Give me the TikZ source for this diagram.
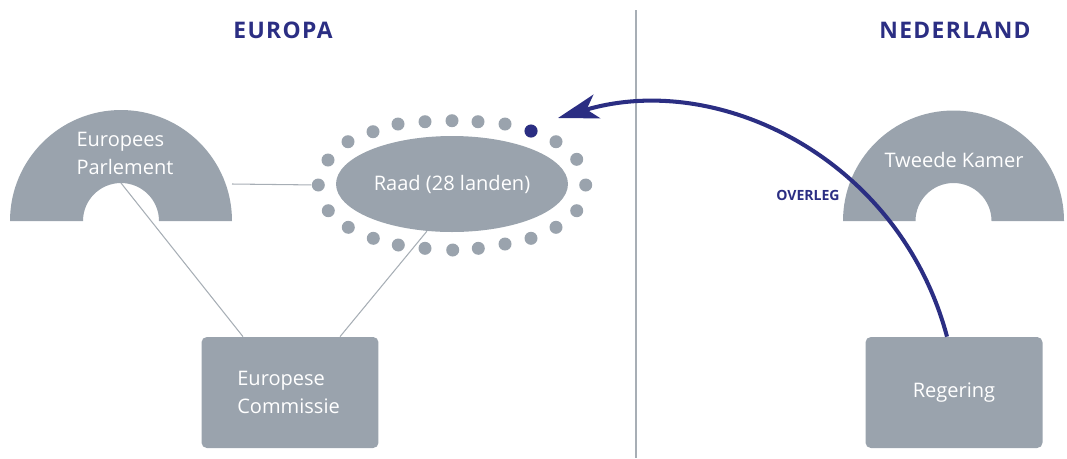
\documentclass[tikz,border=0pt]{standalone}
\usepackage{fontspec}
\setmainfont{Open Sans}
\usepackage{xcolor}
\usetikzlibrary{arrows.meta,shapes.geometric}
\definecolor{grijs}{HTML}{9AA3AD}
\definecolor{lijn}{HTML}{A7AEB5}
\definecolor{blauw}{HTML}{2B2E83}

\begin{document}
\begin{tikzpicture}[x=0.02cm,y=-0.02cm]
	\tikzstyle{every node}=[font=\fontsize{11.4}{16}\selectfont]
	\tikzstyle{wit}=[text=white, inner sep=0pt]
	\tikzstyle{kop}=[text=blauw, font=\bfseries\fontsize{13}{15}\selectfont\addfontfeature{LetterSpace=6}]
	\tikzstyle{blok}=[rectangle, rounded corners=3pt, fill=grijs, minimum width=3.54cm, minimum height=2.22cm, inner sep=0pt]
	\tikzstyle{stip}=[circle, fill=grijs, minimum size=0.26cm, inner sep=0pt]
	\tikzstyle{verbinding}=[draw=lijn, line width=0.6pt]
	\tikzstyle{pijl}=[draw=blauw, line width=2.3pt, -{Stealth[length=23pt, width=14pt, inset=6pt]}]
		\useasboundingbox (0,0) rectangle (1067,458);
		\draw [lijn, line width=1pt] (636,10) to (636,458);
		\node [kop] (europa) at (283,30) {EUROPA};
		\node [kop] (nederland) at (955,30) {NEDERLAND};
		\fill [grijs] (10,221) arc[start angle=180, end angle=360, radius=111] -- (159,221) arc[start angle=0, end angle=-180, radius=38] -- cycle;
		\node [wit, align=left] (eptekst) at (125,153) {Europees\\Parlement};
		\coordinate (ep) at (121,183);
		\coordinate (eprand) at (232,184);
		\fill [grijs] (843,221) arc[start angle=180, end angle=360, radius=110.5] -- (991.5,221) arc[start angle=0, end angle=-180, radius=38] -- cycle;
		\node [wit] (tktekst) at (954,160) {Tweede Kamer};
		\node [ellipse, fill=grijs, minimum width=4.64cm, minimum height=1.92cm, wit] (raad) at (452,184) {Raad (28 landen)};
		\foreach \x/\y [count=\i] in {328/160, 348/141.7, 373/131.7, 398/124, 425/121.7, 452/120.7, 478/121.7, 505/124, 531/131, 556/141.7, 576.7/159.3, 585.7/185, 576.7/210.7, 556/227.3, 531/238.3, 505/244, 478.3/248.3, 452.7/250, 425/248.3, 398.3/245, 373.3/238.3, 348.3/227.3, 328.3/210.7, 318.3/185}
			\node [stip] (stip\i) at (\x,\y) {};
		\node [stip, fill=blauw] at (stip9) {};
		\node [blok] (com) at (290,392.5) {};
		\node [wit, align=left, anchor=west] (comtekst) at (237,392.5) {Europese\\Commissie};
		\node [blok, wit] (reg) at (954,392.5) {Regering};
		\draw [verbinding] (eprand) to (stip24);
		\draw [verbinding] (ep) to ([xshift=-0.94cm]com.north);
		\draw [verbinding] (raad.242) to ([xshift=1cm]com.north);
		\coordinate (overleg) at (558,118);
		\draw [pijl] ([xshift=-0.14cm]reg.north) .. controls (900,160) and (720,70) .. (overleg);
		\node [text=blauw, font=\bfseries\fontsize{8}{10}\selectfont, anchor=east, inner sep=0pt] (overlegtekst) at (840,195) {OVERLEG};
	\end{tikzpicture}
\end{document}
